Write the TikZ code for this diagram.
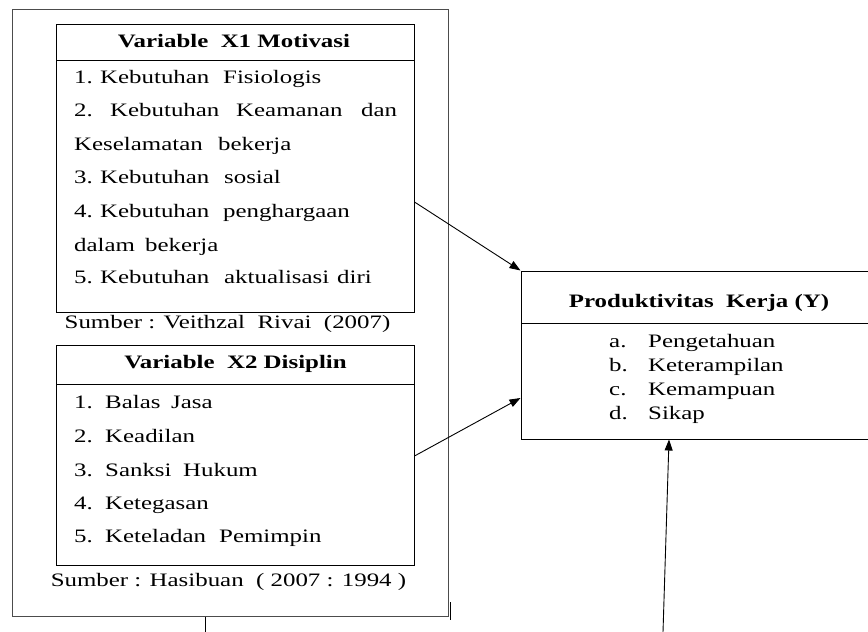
\documentclass[tikz,border=0pt]{standalone}
\usepackage{fontspec}
\setmainfont{Liberation Serif}[FakeStretch=1.31]
\usetikzlibrary{arrows.meta}
\newcommand{\wordat}[2]{\makebox[#1][l]{#2}}
\begin{document}
\begin{tikzpicture}[x=1pt,y=-1pt,
  box/.style={draw, line width=1pt, inner sep=0pt},
  txt/.style={anchor=base west, inner sep=0pt, font=\fontsize{19}{19}\selectfont},
  ctr/.style={anchor=base, inner sep=0pt, font=\fontsize{19}{19}\selectfont},
  ttl/.style={anchor=base, inner sep=0pt, font=\fontsize{19}{19}\selectfont\bfseries},
  arr/.style={line width=0.9pt, -{Triangle[length=11pt,width=8pt]}}]
\useasboundingbox (0,0) rectangle (868,632);
% outer frame
\node[box, draw=black!70, minimum width=436pt, minimum height=607pt] (outer) at (230,312.5) {};
\draw[line width=1pt] (450,602) -- (450,620);
% X1 box
\node[box, minimum width=358pt, minimum height=288pt] (x1) at (235,168) {};
\draw[line width=1pt] (56,60) -- (414,60);
\node[ttl] (x1t) at (234,47) {Variable\ \ X1 Motivasi};
\node[txt] (x1a) at (74,83) {\wordat{26pt}{1.}\wordat{123pt}{Kebutuhan}Fisiologis};
\node[txt] (x1b) at (74,116) {\wordat{36pt}{2.}\wordat{126pt}{Kebutuhan}\wordat{125pt}{Keamanan}dan};
\node[txt] (x1c) at (74,150) {\wordat{144pt}{Keselamatan}bekerja};
\node[txt] (x1d) at (74,183) {\wordat{26pt}{3.}\wordat{124pt}{Kebutuhan}sosial};
\node[txt] (x1e) at (74,217) {\wordat{26pt}{4.}\wordat{123pt}{Kebutuhan}penghargaan};
\node[txt] (x1f) at (74,251) {\wordat{71pt}{dalam}bekerja};
\node[txt] (x1g) at (74,283) {\wordat{26pt}{5.}\wordat{124pt}{Kebutuhan}\wordat{113pt}{aktualisasi}diri};
\node[ctr] (s1) at (227.5,328) {Sumber : Veithzal\ \ Rivai\ \ (2007)};
% X2 box
\node[box, minimum width=358pt, minimum height=220pt] (x2) at (235,455) {};
\draw[line width=1pt] (56,384) -- (414,384);
\node[ttl] (x2t) at (235.5,368) {Variable\ \ X2 Disiplin};
\node[txt] (x2a) at (74,408) {1.};
\node[txt] (x2a2) at (105,408) {\wordat{66pt}{Balas}Jasa};
\node[txt] (x2b) at (74,442) {2.};
\node[txt] (x2b2) at (105,442) {Keadilan};
\node[txt] (x2c) at (74,476) {3.};
\node[txt] (x2c2) at (105,476) {\wordat{78pt}{Sanksi}Hukum};
\node[txt] (x2d) at (74,509) {4.};
\node[txt] (x2d2) at (105,509) {Ketegasan};
\node[txt] (x2e) at (74,542) {5.};
\node[txt] (x2e2) at (105,542) {\wordat{114pt}{Keteladan}Pemimpin};
\node[ctr] (s2) at (228.5,586) {Sumber : Hasibuan\ \ ( 2007 : 1994 )};
% Y box
\node[box, minimum width=359pt, minimum height=168pt] (y) at (700.5,355) {};
\draw[line width=1pt] (521,323) -- (880,323);
\node[ttl] (yt) at (699,307) {Produktivitas\ \ Kerja\ (Y)};
\node[txt] (ya) at (609,347) {a.};
\node[txt] (ya2) at (648,347) {Pengetahuan};
\node[txt] (yb) at (609,371) {b.};
\node[txt] (yb2) at (648,371) {Keterampilan};
\node[txt] (yc) at (609,395) {c.};
\node[txt] (yc2) at (648,395) {Kemampuan};
\node[txt] (yd) at (609,419) {d.};
\node[txt] (yd2) at (648,419) {Sikap};
% connectors
\coordinate (tail) at (663,632);
\coordinate (stub) at (205,632);
\draw[arr] ([yshift=-34pt]x1.east) -- (y.north west);
\draw[arr] ([yshift=-1pt]x2.east) -- ([yshift=-43pt]y.west);
\draw[arr] (tail) -- ([xshift=-31.5pt]y.south);
\draw[line width=1pt] ([xshift=-25pt]outer.south) -- (stub);
\end{tikzpicture}
\end{document}
